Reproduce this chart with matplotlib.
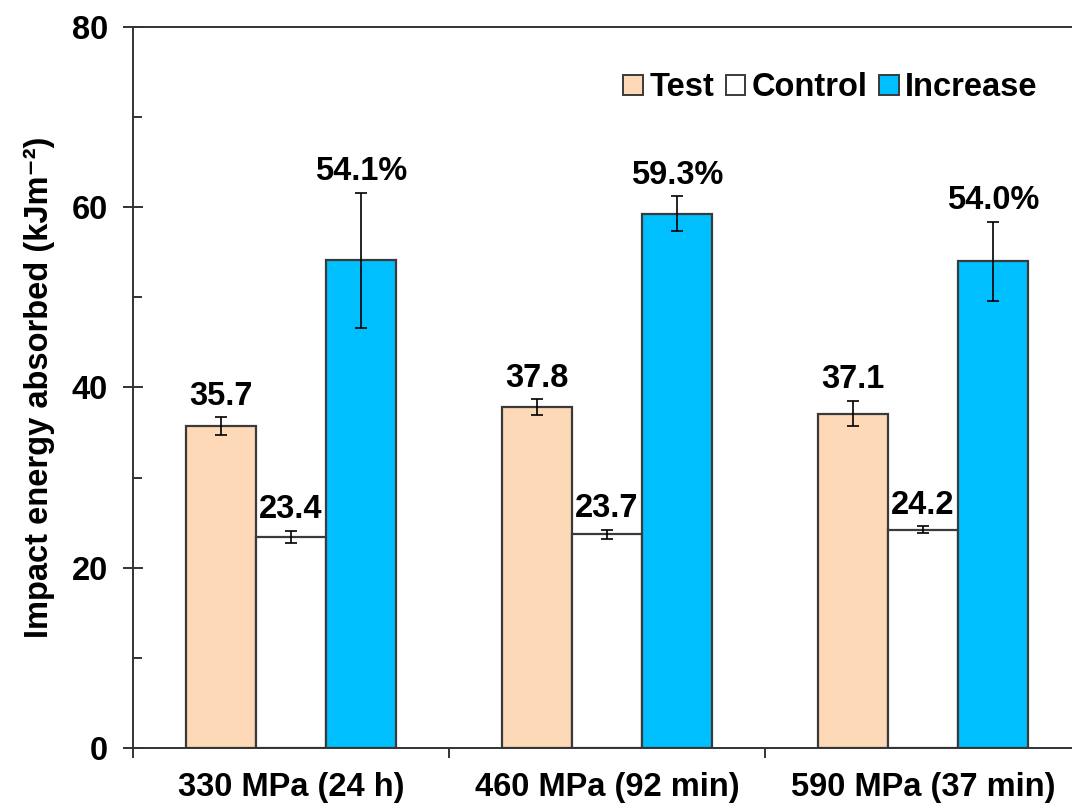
import numpy as np
import matplotlib.pyplot as plt
from matplotlib.patches import Patch

plt.rcParams['font.family'] = ['Liberation Sans', 'DejaVu Sans']
plt.rcParams['font.weight'] = 'bold'

groups = ['330 MPa (24 h)', '460 MPa (92 min)', '590 MPa (37 min)']
test = [35.7, 37.8, 37.1]
test_err = [1.0, 0.9, 1.4]
control = [23.4, 23.7, 24.2]
control_err = [0.7, 0.5, 0.4]
increase = [54.1, 59.3, 54.0]
increase_err = [7.5, 1.9, 4.4]

fig = plt.figure(figsize=(10.72, 8.05), dpi=100)
ax = fig.add_axes([0.1241, 0.0708, 0.8843, 0.8957])

x = np.arange(len(groups))
w = 0.222
edge = '#3a3a3a'
fs = 23.5
err_kw = dict(ecolor='black', elinewidth=1.2, capsize=4, capthick=1.2)

series = [
    (test, test_err, '#FDD9B7', '{:.1f}'),
    (control, control_err, 'white', '{:.1f}'),
    (increase, increase_err, '#00BFFF', '{:.1f}%'),
]
for i, (vals, errs, col, fmt) in enumerate(series):
    pos = x + (i - 1) * w
    ax.bar(pos, vals, w, yerr=errs, color=col, edgecolor=edge, linewidth=1.6,
           error_kw=err_kw, zorder=2)
    for p, v, e in zip(pos, vals, errs):
        ax.annotate(fmt.format(v), (p, v + e), xytext=(0, 4),
                    textcoords='offset points', ha='center', va='bottom',
                    fontsize=fs, fontweight='bold')

ax.set_xlim(-0.5, 2.5)
ax.set_ylim(0, 80)

ax.set_yticks([0, 20, 40, 60, 80])
ax.set_yticks([10, 30, 50, 70], minor=True)
ax.tick_params(axis='y', which='major', direction='inout', length=14, width=1.4,
               color='#333333', pad=11, labelsize=fs)
ax.tick_params(axis='y', which='minor', direction='in', length=6.5, width=1.4,
               color='#333333')

ax.set_xticks(x)
ax.set_xticklabels(groups)
ax.set_xticks([-0.5, 0.5, 1.5, 2.5], minor=True)
ax.tick_params(axis='x', which='major', length=0, pad=17, labelsize=fs)
ax.tick_params(axis='x', which='minor', direction='out', length=7, width=1.4,
               color='#333333')

for s in ax.spines.values():
    s.set_linewidth(1.4)
    s.set_color('#333333')

ax.set_ylabel('Impact energy absorbed (kJm\u207b\u00b2)', fontsize=fs,
              fontweight='bold', labelpad=12)

handles = [Patch(facecolor='#FDD9B7', edgecolor=edge, linewidth=1.4),
           Patch(facecolor='white', edgecolor=edge, linewidth=1.4),
           Patch(facecolor='#00BFFF', edgecolor=edge, linewidth=1.4)]
ax.legend(handles, ['Test', 'Control', 'Increase'], ncol=3, frameon=False,
          loc='upper right', bbox_to_anchor=(0.968, 0.955), fontsize=fs,
          handlelength=0.6, handleheight=0.6, handletextpad=0.2,
          columnspacing=0.35, borderaxespad=0)

fig.savefig('out.png', dpi=100)
